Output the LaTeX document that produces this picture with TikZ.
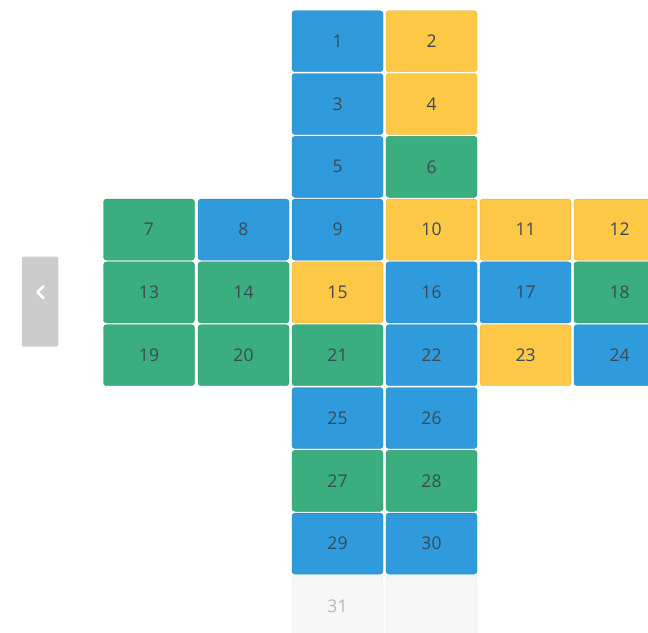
\documentclass[tikz,border=0pt]{standalone}
\usepackage{fontspec}
\setmainfont{Open Sans}
\usepackage{tikz}
\usetikzlibrary{positioning}
\definecolor{tileblue}{HTML}{2F9BDD}
\definecolor{tileyellow}{HTML}{FCC846}
\definecolor{tilegreen}{HTML}{3BAE7F}
\definecolor{tiletext}{HTML}{3A4A52}
\definecolor{emptyfill}{HTML}{F7F7F7}
\definecolor{emptyline}{HTML}{DEDEDE}
\definecolor{emptytext}{HTML}{B8B8B8}
\definecolor{backgray}{HTML}{CCCCCC}

\begin{document}
\begin{tikzpicture}[
  x=1pt,y=-1pt,
  tile/.style={rectangle,rounded corners=3pt,minimum width=91pt,minimum height=61pt,
               inner sep=0pt,font=\fontsize{17.5}{20}\selectfont,text=tiletext},
  bl/.style={tile,fill=tileblue,draw=tileblue!85!black},
  ye/.style={tile,fill=tileyellow,draw=tileyellow!88!black},
  gr/.style={tile,fill=tilegreen,draw=tilegreen!85!black},
  em/.style={tile,fill=emptyfill,draw=emptyline,text=emptytext},
  backbtn/.style={rectangle,rounded corners=1.5pt,fill=backgray,
                  minimum width=36.5pt,minimum height=90pt,inner sep=0pt}
]
  \useasboundingbox (0,0) rectangle (648,632);
  \clip (0,0) rectangle (648,632);

  % back button
  \node[backbtn] (back) at (40,301.7) {};
  \draw[white,line width=2.6pt,line cap=round,line join=round]
    ([xshift=3.5pt,yshift=15.5pt]back.center) -- ++(-6,6) -- ++(6,6);

  % top arm
  \node[bl] (t1)  at (337.5,41.2)  {1};
  \node[ye] (t2)  at (431.5,41.2)  {2};
  \node[bl] (t3)  at (337.5,104)   {3};
  \node[ye] (t4)  at (431.5,104)   {4};
  \node[bl] (t5)  at (337.5,166.8) {5};
  \node[gr] (t6)  at (431.5,166.8) {6};

  % middle band
  \node[gr] (t7)  at (149,229.6)   {7};
  \node[bl] (t8)  at (243.5,229.6) {8};
  \node[bl] (t9)  at (337.5,229.6) {9};
  \node[ye] (t10) at (431.5,229.6) {10};
  \node[ye] (t11) at (525.5,229.6) {11};
  \node[ye] (t12) at (619.5,229.6) {12};

  \node[gr] (t13) at (149,292.4)   {13};
  \node[gr] (t14) at (243.5,292.4) {14};
  \node[ye] (t15) at (337.5,292.4) {15};
  \node[bl] (t16) at (431.5,292.4) {16};
  \node[bl] (t17) at (525.5,292.4) {17};
  \node[gr] (t18) at (619.5,292.4) {18};

  \node[gr] (t19) at (149,355.2)   {19};
  \node[gr] (t20) at (243.5,355.2) {20};
  \node[gr] (t21) at (337.5,355.2) {21};
  \node[bl] (t22) at (431.5,355.2) {22};
  \node[ye] (t23) at (525.5,355.2) {23};
  \node[bl] (t24) at (619.5,355.2) {24};

  % bottom arm
  \node[bl] (t25) at (337.5,418)   {25};
  \node[bl] (t26) at (431.5,418)   {26};
  \node[gr] (t27) at (337.5,480.8) {27};
  \node[gr] (t28) at (431.5,480.8) {28};
  \node[bl] (t29) at (337.5,543.6) {29};
  \node[bl] (t30) at (431.5,543.6) {30};
  \node[em] (t31) at (337.5,606.4) {31};
  \node[em] (t32) at (431.5,606.4) {};
\end{tikzpicture}
\end{document}
